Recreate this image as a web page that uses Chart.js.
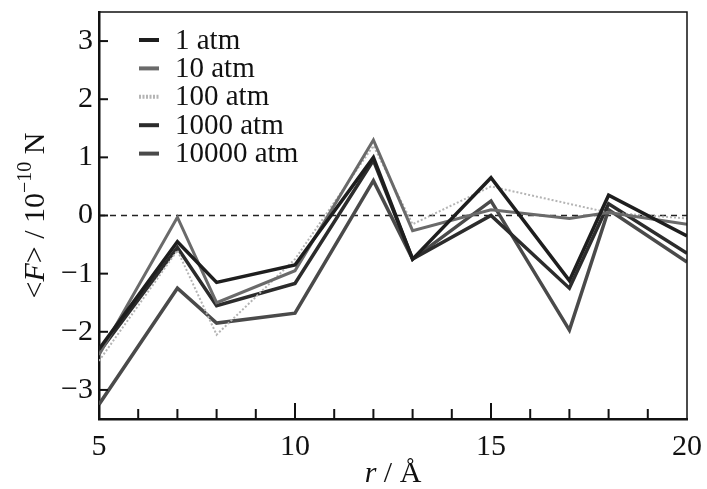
<!DOCTYPE html>
<html>
<head>
<meta charset="utf-8">
<script src="https://cdn.jsdelivr.net/npm/chart.js@4.4.1/dist/chart.umd.min.js"></script>
<style>
  html, body { margin: 0; padding: 0; background: #fff; }
  #wrap { width: 707px; height: 489px; }
</style>
</head>
<body>
<div id="wrap"><canvas id="c" width="707" height="489"></canvas></div>
<script>
// r positions (Å)
var R_VALUES = [5, 7, 8, 10, 12, 13, 15, 17, 18, 20];

// <F> in 1e-10 N
var F_1ATM     = [-2.30, -0.45, -1.15, -0.85, 1.00, -0.75, 0.65, -1.12, 0.35, -0.35];
var F_10ATM    = [-2.40, -0.03, -1.50, -0.95, 1.30, -0.26, 0.10, -0.05, 0.05, -0.15];
var F_100ATM   = [-2.50, -0.60, -2.05, -0.75, 1.20, -0.15, 0.50,  0.20, 0.05, -0.05];
var F_1000ATM  = [-2.35, -0.55, -1.55, -1.17, 0.95, -0.75, 0.00, -1.25, 0.20, -0.65];
var F_10000ATM = [-3.25, -1.25, -1.85, -1.68, 0.60, -0.75, 0.25, -1.97, 0.10, -0.80];

var SERIES_LABELS = ['1 atm', '10 atm', '100 atm', '1000 atm', '10000 atm'];
var X_TICKS = [5, 10, 15, 20];
var Y_TICKS = [-3, -2, -1, 0, 1, 2, 3];

var SERIF = "'Liberation Serif', 'DejaVu Serif', serif";

var STYLES = [
  { color: '#1e1e1e', width: 3.5, dash: [] },
  { color: '#6a6a6a', width: 3,   dash: [] },
  { color: '#b4b4b4', width: 2,   dash: [2, 2] },
  { color: '#2c2c2c', width: 3.5, dash: [] },
  { color: '#4a4a4a', width: 3.5, dash: [] },
];

function _pts(ys) {
  return R_VALUES.map(function(x, i) { return { x: x, y: ys[i] }; });
}

var allSeries = [F_1ATM, F_10ATM, F_100ATM, F_1000ATM, F_10000ATM];
var datasets = allSeries.map(function(ys, i) {
  return {
    label: SERIES_LABELS[i],
    data: _pts(ys),
    borderColor: STYLES[i].color,
    borderWidth: STYLES[i].width,
    borderDash: STYLES[i].dash,
    pointRadius: 0,
    tension: 0,
    fill: false,
    borderJoinStyle: 'miter',
  };
});

function _minus(v) { return String(v).replace('-', '\u2212'); }

var decorPlugin = {
  id: 'decor',
  beforeDatasetsDraw: function(chart) {
    var ctx = chart.ctx, a = chart.chartArea;
    var ys = chart.scales.y;
    ctx.save();
    // zero reference line
    var y0 = ys.getPixelForValue(0);
    ctx.strokeStyle = '#222';
    ctx.lineWidth = 1.3;
    ctx.setLineDash([6, 5]);
    ctx.beginPath();
    ctx.moveTo(a.left, y0);
    ctx.lineTo(a.right, y0);
    ctx.stroke();
    ctx.restore();
  },
  afterDraw: function(chart) {
    var ctx = chart.ctx, a = chart.chartArea;
    var xs = chart.scales.x, ys = chart.scales.y;
    ctx.save();
    ctx.strokeStyle = '#111';
    // frame top / right
    ctx.lineWidth = 1.5;
    ctx.beginPath();
    ctx.moveTo(a.left, a.top);
    ctx.lineTo(a.right, a.top);
    ctx.lineTo(a.right, a.bottom);
    ctx.stroke();
    // x ticks, inward
    ctx.lineWidth = 2;
    for (var r = 6; r < 20; r++) {
      var px = xs.getPixelForValue(r);
      var len = (r % 5 === 0) ? 16 : 10;
      ctx.beginPath();
      ctx.moveTo(px, a.bottom);
      ctx.lineTo(px, a.bottom - len);
      ctx.stroke();
    }
    // y ticks, inward
    Y_TICKS.forEach(function(v) {
      var py = ys.getPixelForValue(v);
      ctx.beginPath();
      ctx.moveTo(a.left, py);
      ctx.lineTo(a.left + 9, py);
      ctx.stroke();
    });

    // legend
    ctx.textBaseline = 'middle';
    ctx.font = '29px ' + SERIF;
    chart.data.datasets.forEach(function(ds, i) {
      var cy = 40 + i * 28.4;
      ctx.strokeStyle = ds.borderColor;
      ctx.lineWidth = 4;
      ctx.setLineDash(ds.borderDash && ds.borderDash.length ? [2, 1.5] : []);
      ctx.beginPath();
      ctx.moveTo(139, cy);
      ctx.lineTo(159, cy);
      ctx.stroke();
      ctx.setLineDash([]);
      ctx.fillStyle = '#111';
      ctx.fillText(ds.label, 175, cy + 1);
    });

    // x axis title: r / Å
    ctx.fillStyle = '#111';
    ctx.textBaseline = 'alphabetic';
    var cx = (a.left + a.right) / 2;
    ctx.font = 'italic 30px ' + SERIF;
    var w1 = ctx.measureText('r').width;
    ctx.font = '30px ' + SERIF;
    var w2 = ctx.measureText(' / \u00C5').width;
    var sx = cx - (w1 + w2) / 2;
    ctx.font = 'italic 30px ' + SERIF;
    ctx.fillText('r', sx, 482);
    ctx.font = '30px ' + SERIF;
    ctx.fillText(' / \u00C5', sx + w1, 482);

    // y axis title: <F> / 10^-10 N
    ctx.save();
    ctx.translate(44, (a.top + a.bottom) / 2);
    ctx.rotate(-Math.PI / 2);
    var parts = [
      { t: '<', f: '30px ' + SERIF, dy: 0 },
      { t: 'F', f: 'italic 30px ' + SERIF, dy: 0 },
      { t: '> / 10', f: '30px ' + SERIF, dy: 0 },
      { t: '\u221210', f: '20px ' + SERIF, dy: -13 },
      { t: ' N', f: '30px ' + SERIF, dy: 0 },
    ];
    var total = 0;
    parts.forEach(function(p) { ctx.font = p.f; p.w = ctx.measureText(p.t).width; total += p.w; });
    var px0 = -total / 2;
    parts.forEach(function(p) {
      ctx.font = p.f;
      ctx.fillText(p.t, px0, p.dy);
      px0 += p.w;
    });
    ctx.restore();
    ctx.restore();
  },
};

new Chart(document.getElementById('c'), {
  type: 'line',
  data: { datasets: datasets },
  options: {
    responsive: false,
    animation: false,
    layout: { padding: { left: 0, top: 0, right: 0, bottom: 0 } },
    plugins: { legend: { display: false }, tooltip: { enabled: false } },
    scales: {
      x: {
        type: 'linear',
        min: 5,
        max: 20,
        afterFit: function(s) { s.height = 70; s.paddingRight = 20; s.paddingLeft = 0; },
        afterBuildTicks: function(s) { s.ticks = X_TICKS.map(function(v) { return { value: v }; }); },
        grid: { display: false, drawTicks: false },
        border: { display: true, color: '#111', width: 2.5 },
        ticks: {
          color: '#111',
          padding: 10,
          maxRotation: 0,
          font: { family: SERIF, size: 30 },
          callback: function(v) { return _minus(v); },
        },
      },
      y: {
        type: 'linear',
        min: -3.5,
        max: 3.5,
        afterFit: function(s) { s.width = 99; s.paddingTop = 12; s.paddingBottom = 0; },
        afterBuildTicks: function(s) { s.ticks = Y_TICKS.map(function(v) { return { value: v }; }); },
        grid: { display: false, drawTicks: false },
        border: { display: true, color: '#111', width: 2.5 },
        ticks: {
          color: '#111',
          padding: 6,
          font: { family: SERIF, size: 30 },
          callback: function(v) { return _minus(v); },
        },
      },
    },
  },
  plugins: [decorPlugin],
});
</script>
</body>
</html>
